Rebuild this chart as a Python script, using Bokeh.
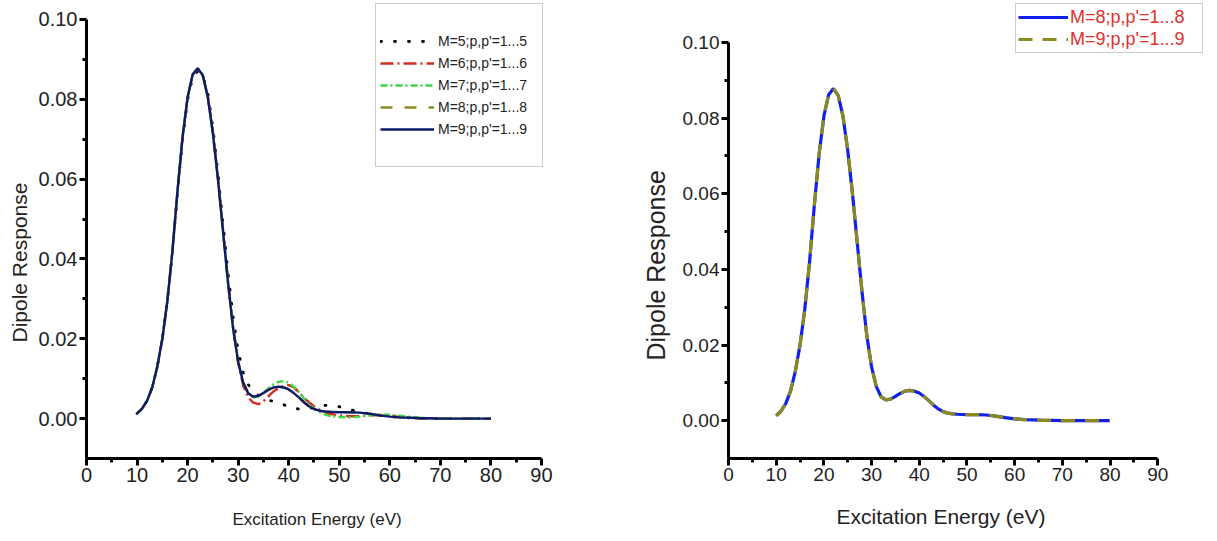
from bokeh.plotting import figure
from bokeh.layouts import row
from bokeh.models import Range1d, FixedTicker, PrintfTickFormatter, Legend, LegendItem, Title
from bokeh.embed import file_html
from bokeh.resources import INLINE

# ---------------- data ----------------
energy = [10, 11, 12, 13, 14, 15, 16, 17, 18, 19, 20, 21, 22, 23, 24, 25, 26, 27, 28, 29,
          30, 31, 32, 33, 34, 35, 36, 37, 38, 39, 40, 41, 42, 43, 44, 45, 46, 47, 48,
          50, 52, 54, 56, 58, 60, 62, 64, 66, 68, 70, 72, 74, 76, 78, 80]

m5 = [0.0013, 0.0025, 0.0045, 0.0078, 0.0130, 0.0200, 0.0295, 0.0418, 0.0565, 0.0698,
      0.0798, 0.0855, 0.0870, 0.0862, 0.0815, 0.0730, 0.0615, 0.0490, 0.0365, 0.0255,
      0.0170, 0.0115, 0.0085, 0.0068, 0.0058, 0.0051, 0.0046, 0.0043, 0.0040, 0.0035,
      0.0029, 0.0026, 0.0024, 0.0024, 0.0025, 0.0028, 0.0031, 0.0033, 0.0033,
      0.0030, 0.0023, 0.0017, 0.0012, 0.0008, 0.0005, 0.0003, 0.0002, 0.0001, 0.0000,
      0.0000, 0.0000, 0.0000, 0.0000, 0.0000, 0.0000]

m6 = [0.0013, 0.0025, 0.0045, 0.0078, 0.0130, 0.0200, 0.0295, 0.0420, 0.0570, 0.0705,
      0.0805, 0.0862, 0.0876, 0.0860, 0.0808, 0.0720, 0.0605, 0.0475, 0.0345, 0.0230,
      0.0140, 0.0082, 0.0052, 0.0040, 0.0036, 0.0043, 0.0056, 0.0068, 0.0077, 0.0082,
      0.0084, 0.0079, 0.0066, 0.0052, 0.0041, 0.0031, 0.0023, 0.0017, 0.0012,
      0.0008, 0.0006, 0.0006, 0.0008, 0.0009, 0.0007, 0.0004, 0.0002, 0.0001, 0.0000,
      0.0000, 0.0000, 0.0000, 0.0000, 0.0000, 0.0000]

m7 = [0.0013, 0.0025, 0.0045, 0.0078, 0.0130, 0.0200, 0.0295, 0.0420, 0.0570, 0.0705,
      0.0805, 0.0862, 0.0878, 0.0860, 0.0805, 0.0715, 0.0600, 0.0470, 0.0340, 0.0228,
      0.0145, 0.0092, 0.0064, 0.0053, 0.0055, 0.0064, 0.0076, 0.0086, 0.0092, 0.0094,
      0.0090, 0.0080, 0.0067, 0.0051, 0.0037, 0.0026, 0.0017, 0.0011, 0.0007,
      0.0004, 0.0003, 0.0005, 0.0008, 0.0010, 0.0010, 0.0007, 0.0004, 0.0002, 0.0001,
      0.0000, 0.0000, 0.0000, 0.0000, 0.0000, 0.0000]

m8 = [0.0013, 0.0025, 0.0045, 0.0078, 0.0130, 0.0200, 0.0295, 0.0420, 0.0570, 0.0705,
      0.0805, 0.0862, 0.0878, 0.0860, 0.0805, 0.0715, 0.0600, 0.0470, 0.0340, 0.0225,
      0.0142, 0.0090, 0.0063, 0.0055, 0.0057, 0.0064, 0.0072, 0.0078, 0.0080, 0.0078,
      0.0073, 0.0064, 0.0053, 0.0041, 0.0031, 0.0024, 0.0020, 0.0018, 0.0017,
      0.0016, 0.0016, 0.0015, 0.0012, 0.0008, 0.0005, 0.0003, 0.0002, 0.0001, 0.0001,
      0.0000, 0.0000, 0.0000, 0.0000, 0.0000, 0.0000]

m9 = [0.0013, 0.0025, 0.0045, 0.0078, 0.0130, 0.0200, 0.0295, 0.0420, 0.0570, 0.0705,
      0.0805, 0.0862, 0.0878, 0.0860, 0.0805, 0.0715, 0.0600, 0.0470, 0.0340, 0.0225,
      0.0142, 0.0090, 0.0063, 0.0055, 0.0057, 0.0064, 0.0072, 0.0078, 0.0080, 0.0078,
      0.0073, 0.0064, 0.0053, 0.0041, 0.0031, 0.0024, 0.0020, 0.0018, 0.0017,
      0.0016, 0.0016, 0.0015, 0.0012, 0.0008, 0.0005, 0.0003, 0.0002, 0.0001, 0.0001,
      0.0000, 0.0000, 0.0000, 0.0000, 0.0000, 0.0000]

left_labels = ["M=5;p,p'=1...5", "M=6;p,p'=1...6", "M=7;p,p'=1...7",
               "M=8;p,p'=1...8", "M=9;p,p'=1...9"]
right_labels = ["M=8;p,p'=1...8", "M=9;p,p'=1...9"]

x_ticks = [0, 10, 20, 30, 40, 50, 60, 70, 80, 90]
x_minor = [5, 15, 25, 35, 45, 55, 65, 75, 85]
y_ticks = [0.0, 0.02, 0.04, 0.06, 0.08, 0.10]
y_minor = [0.01, 0.03, 0.05, 0.07, 0.09]

x_title = "Excitation Energy (eV)"
y_title = "Dipole Response"

FONT = "Liberation Sans"
TXT = "#222222"


def style(p, tick_size):
    p.grid.visible = False
    p.outline_line_color = None
    p.background_fill_color = "white"
    p.border_fill_color = "white"
    p.xaxis.bounds = (0, 90)
    p.yaxis.bounds = (-0.01, 0.10)
    p.xaxis.ticker = FixedTicker(ticks=x_ticks, minor_ticks=x_minor)
    p.yaxis.ticker = FixedTicker(ticks=y_ticks, minor_ticks=y_minor)
    p.yaxis.formatter = PrintfTickFormatter(format="%.2f")
    for ax in (p.xaxis[0], p.yaxis[0]):
        ax.axis_line_width = 3
        ax.axis_line_color = "black"
        ax.major_tick_line_width = 3
        ax.minor_tick_line_width = 3
        ax.major_tick_out = 7
        ax.major_tick_in = 0
        ax.minor_tick_out = 4
        ax.minor_tick_in = 0
        ax.major_label_text_font = FONT
        ax.major_label_text_font_size = tick_size
        ax.major_label_text_color = TXT
        ax.major_label_standoff = 2


def titles(p, xsize, xoff, xgap, ysize, yoff, ystand):
    # small empty spacer between the tick labels and the x title
    p.add_layout(Title(text=" ", text_font_size="1px", standoff=xgap), "below")
    p.add_layout(Title(text=x_title, align="left", offset=xoff, standoff=0,
                       vertical_align="top", text_font=FONT, text_font_size=xsize,
                       text_font_style="normal", text_color=TXT), "below")
    p.add_layout(Title(text=y_title, align="left", offset=yoff, standoff=ystand,
                       vertical_align="bottom", text_font=FONT, text_font_size=ysize,
                       text_font_style="normal", text_color=TXT), "left")


# ---------------- left panel ----------------
p1 = figure(width=560, height=540, x_range=Range1d(0, 90.4), y_range=Range1d(-0.01, 0.104),
            output_backend="svg", toolbar_location=None,
            min_border_left=86, min_border_right=17, min_border_top=3, min_border_bottom=79)
style(p1, "20px")
titles(p1, "17px", 146, 22, "21px", 116, 10)

r5 = p1.line(energy, m5, line_color="black", line_width=2.8, line_dash="1 13", line_cap="round")
r6 = p1.line(energy, m6, line_color="#d42a22", line_width=2.4, line_dash="13 4 2 4")
r7 = p1.line(energy, m7, line_color="#3ad83a", line_width=2.4, line_dash="7 3 2 3")
r8 = p1.line(energy, m8, line_color="#8a8a28", line_width=2.4, line_dash="12 12")
r9 = p1.line(energy, m9, line_color="#0d1a6a", line_width=2.4)
rb1 = p1.line(energy, m9, line_alpha=0)

leg1 = Legend(items=[LegendItem(label=" ", renderers=[rb1])] +
              [LegendItem(label=lab, renderers=[r]) for lab, r in zip(left_labels, [r5, r6, r7, r8, r9])] +
              [LegendItem(label=" ", renderers=[rb1])],
              location="top_right", margin=0, padding=4, spacing=0,
              glyph_width=54, glyph_height=22, label_height=22, label_standoff=4, label_width=100,
              label_text_font=FONT, label_text_font_size="14px", label_text_color=TXT,
              border_line_color="#9a9a9a", border_line_width=1.5, background_fill_alpha=1)
p1.add_layout(leg1, "center")

# ---------------- right panel ----------------
p2 = figure(width=643, height=540, x_range=Range1d(0, 99.6), y_range=Range1d(-0.01, 0.1103),
            output_backend="svg", toolbar_location=None,
            min_border_left=168, min_border_right=0, min_border_top=3, min_border_bottom=82)
style(p2, "19px")
titles(p2, "21px", 108, 18, "25px", 98, 20)

s8 = p2.line(energy, m8, line_color="#1020f0", line_width=3.2)
s9 = p2.line(energy, m9, line_color="#8a8a1e", line_width=3.2, line_dash="14 10")

leg2 = Legend(items=[LegendItem(label=lab, renderers=[r]) for lab, r in zip(right_labels, [s8, s9])],
              location="top_right", margin=0, padding=2, spacing=0,
              glyph_width=50, glyph_height=22, label_height=22, label_standoff=2, label_width=130,
              label_text_font=FONT, label_text_font_size="18px", label_text_color="#e0302a",
              border_line_color="#9a9a9a", border_line_width=1.5, background_fill_alpha=1)
p2.add_layout(leg2, "center")

layout = row(p1, p2)
open("out.html", "w").write(file_html(layout, INLINE))
